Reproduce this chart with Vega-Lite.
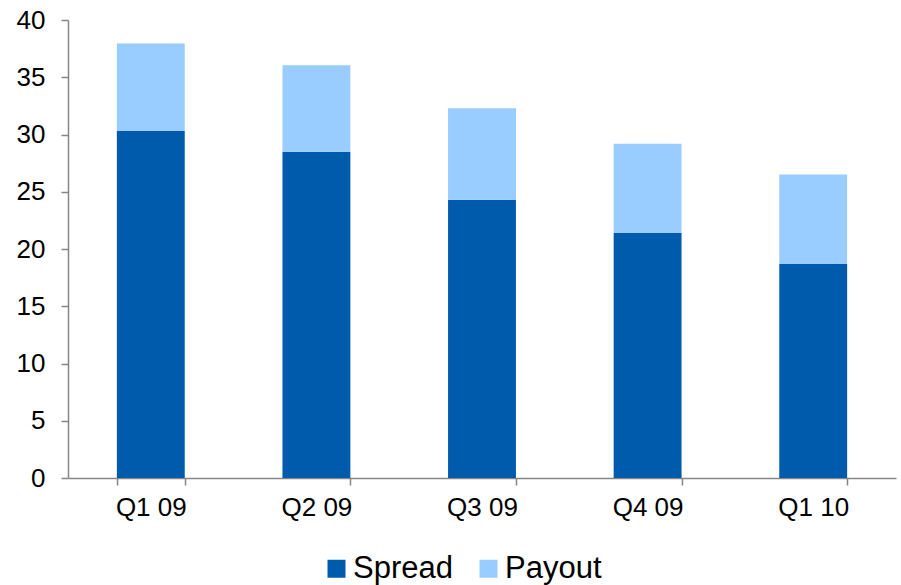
{
  "$schema": "https://vega.github.io/schema/vega-lite/v6.json",
  "width": 828,
  "height": 458,
  "autosize": "none",
  "padding": {"left": 68, "top": 20, "right": 5, "bottom": 107},
  "background": "white",
  "data": {
    "values": [
      {"quarter": "Q1 09", "series": "Spread", "order": 1, "value": 30.3},
      {"quarter": "Q1 09", "series": "Payout", "order": 2, "value": 7.65},
      {"quarter": "Q2 09", "series": "Spread", "order": 1, "value": 28.5},
      {"quarter": "Q2 09", "series": "Payout", "order": 2, "value": 7.55},
      {"quarter": "Q3 09", "series": "Spread", "order": 1, "value": 24.3},
      {"quarter": "Q3 09", "series": "Payout", "order": 2, "value": 8.0},
      {"quarter": "Q4 09", "series": "Spread", "order": 1, "value": 21.4},
      {"quarter": "Q4 09", "series": "Payout", "order": 2, "value": 7.8},
      {"quarter": "Q1 10", "series": "Spread", "order": 1, "value": 18.7},
      {"quarter": "Q1 10", "series": "Payout", "order": 2, "value": 7.8}
    ]
  },
  "config": {
    "view": {"stroke": null},
    "font": "Liberation Sans"
  },
  "mark": {"type": "bar"},
  "encoding": {
    "x": {
      "field": "quarter",
      "type": "nominal",
      "sort": null,
      "scale": {"paddingInner": 0.59, "paddingOuter": 0.295},
      "axis": {
        "title": null,
        "labelAngle": 0,
        "labelFontSize": 26,
        "labelColor": "#000000",
        "labelPadding": 9,
        "domainColor": "#868686",
        "domainWidth": 1.5,
        "tickColor": "#868686",
        "tickWidth": 1.5,
        "tickSize": 7,
        "tickBand": "extent"
      }
    },
    "y": {
      "field": "value",
      "type": "quantitative",
      "aggregate": "sum",
      "stack": "zero",
      "scale": {"domain": [0, 40], "nice": false},
      "axis": {
        "title": null,
        "values": [0, 5, 10, 15, 20, 25, 30, 35, 40],
        "grid": false,
        "labelFontSize": 26,
        "labelColor": "#000000",
        "labelPadding": 16,
        "domainColor": "#868686",
        "domainWidth": 1.5,
        "tickColor": "#868686",
        "tickWidth": 1.5,
        "tickSize": 7
      }
    },
    "color": {
      "field": "series",
      "type": "nominal",
      "sort": ["Spread", "Payout"],
      "scale": {"domain": ["Spread", "Payout"], "range": ["#005BAC", "#99CCFF"]},
      "legend": {
        "title": null,
        "orient": "none",
        "direction": "horizontal",
        "legendX": 253,
        "legendY": 533,
        "symbolType": "square",
        "symbolSize": 324,
        "symbolStrokeWidth": 0,
        "labelFontSize": 31,
        "labelColor": "#000000",
        "labelOffset": 1,
        "columnPadding": 20
      }
    },
    "order": {"field": "order", "type": "quantitative", "sort": "ascending"}
  }
}
